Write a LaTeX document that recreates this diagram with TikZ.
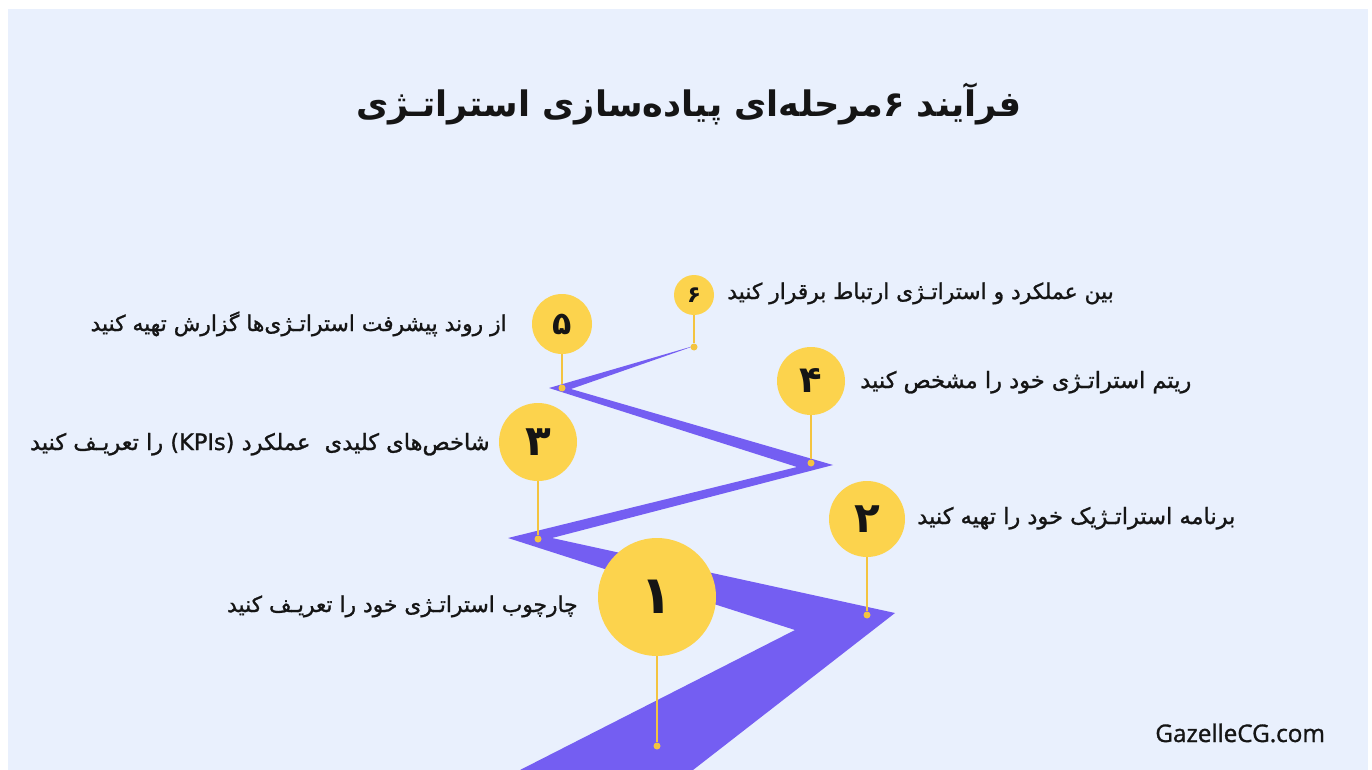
\documentclass[tikz,border=0pt]{standalone}
\usepackage{fontspec}
\setmainfont{DejaVu Sans}
\newfontfamily\fa[Script=Arabic]{DejaVu Sans}
\newfontfamily\falbl[Script=Arabic,FakeBold=1.2]{DejaVu Sans}
\newfontfamily\latfoot[FakeBold=1.2]{Open Sans}
\TeXXeTstate=1
\definecolor{panel}{HTML}{E9F0FD}
\definecolor{band}{HTML}{745EF2}
\definecolor{pinfill}{HTML}{FCD34D}
\definecolor{pinline}{HTML}{F4C440}
\definecolor{ink}{HTML}{151515}
\tikzset{
  bubble/.style={circle, fill=pinfill, inner sep=0pt, text=ink},
  pindot/.style={circle, fill=pinline, inner sep=0pt, minimum size=0.14cm},
  pinline/.style={draw=pinline, line width=1pt},
  lbl/.style={inner sep=0pt, text=ink, font=\falbl\fontsize{12.4}{15}\selectfont},
  lblw/.style={inner sep=0pt, text=ink, font=\falbl\fontsize{12.8}{15}\selectfont},
}
\begin{document}
\begin{tikzpicture}[x=0.02cm,y=-0.02cm]
\useasboundingbox (0,0) rectangle (1372,770);
\fill[white] (0,0) rectangle (1372,770);
\fill[panel] (8,9) rectangle (1368,770);
% title
\node[anchor=base, inner sep=0pt, text=ink, font=\fa\bfseries\fontsize{20}{24}\selectfont] (title) at (689,117)
  {\beginR فرآیند ۶مرحله‌ای پیاده‌سازی استراتـژی\endR};
% band
\fill[band] (520,770) -- (795,630) -- (508,538) -- (797,467) -- (549,388) -- (697,345)
  -- (571,389) -- (833,465) -- (552,538) -- (895,613) -- (693,770) -- cycle;
% pin dots
\node[pindot] (p1) at (657,746) {};
\node[pindot] (p2) at (867,615) {};
\node[pindot] (p3) at (538,539) {};
\node[pindot] (p4) at (811,463) {};
\node[pindot] (p5) at (562,388) {};
\node[pindot] (p6) at (694,347) {};
% bubbles
\node[bubble, minimum size=2.36cm, font=\fa\bfseries\fontsize{30}{30}\selectfont] (c1) at (657,597) {۱};
\node[bubble, minimum size=1.52cm, font=\fa\bfseries\fontsize{24}{24}\selectfont] (c2) at (867,519) {۲};
\node[bubble, minimum size=1.56cm, font=\fa\bfseries\fontsize{24}{24}\selectfont] (c3) at (538,442) {۳};
\node[bubble, minimum size=1.36cm, font=\fa\bfseries\fontsize{21}{21}\selectfont] (c4) at (811,381) {۴};
\node[bubble, minimum size=1.20cm, font=\fa\bfseries\fontsize{18}{18}\selectfont] (c5) at (562,324) {۵};
\node[bubble, minimum size=0.80cm, font=\fa\bfseries\fontsize{13}{13}\selectfont] (c6) at (694,295) {۶};
% pin lines
\draw[pinline] (c1) -- (p1);
\draw[pinline] (c2) -- (p2);
\draw[pinline] (c3) -- (p3);
\draw[pinline] (c4) -- (p4);
\draw[pinline] (c5) -- (p5);
\draw[pinline] (c6) -- (p6);
% labels
\node[lbl, anchor=base east] (t1) at (578,612) {\beginR چارچوب استراتـژی خود را تعریـف کنید\endR};
\node[lblw, anchor=base west] (t2) at (917,524) {\beginR برنامه استراتـژیک خود را تهیه کنید\endR};
\node[lblw, anchor=base east] (t3) at (490,450) {\beginR شاخص‌های کلیدی \ عملکرد \beginL(KPIs)\endL{} را تعریـف کنید\endR};
\node[lblw, anchor=base west] (t4) at (860,388) {\beginR ریتم استراتـژی خود را مشخص کنید\endR};
\node[lbl, anchor=base east] (t5) at (507,331) {\beginR از روند پیشرفت استراتـژی‌ها گزارش تهیه کنید\endR};
\node[lbl, anchor=base west] (t6) at (727,299) {\beginR بین عملکرد و استراتـژی ارتباط برقرار کنید\endR};
% footer
\node[anchor=base west, inner sep=0pt, text=ink, font=\latfoot\fontsize{13.8}{16}\selectfont] (web) at (1155,742) {GazelleCG.com};
\end{tikzpicture}
\end{document}
